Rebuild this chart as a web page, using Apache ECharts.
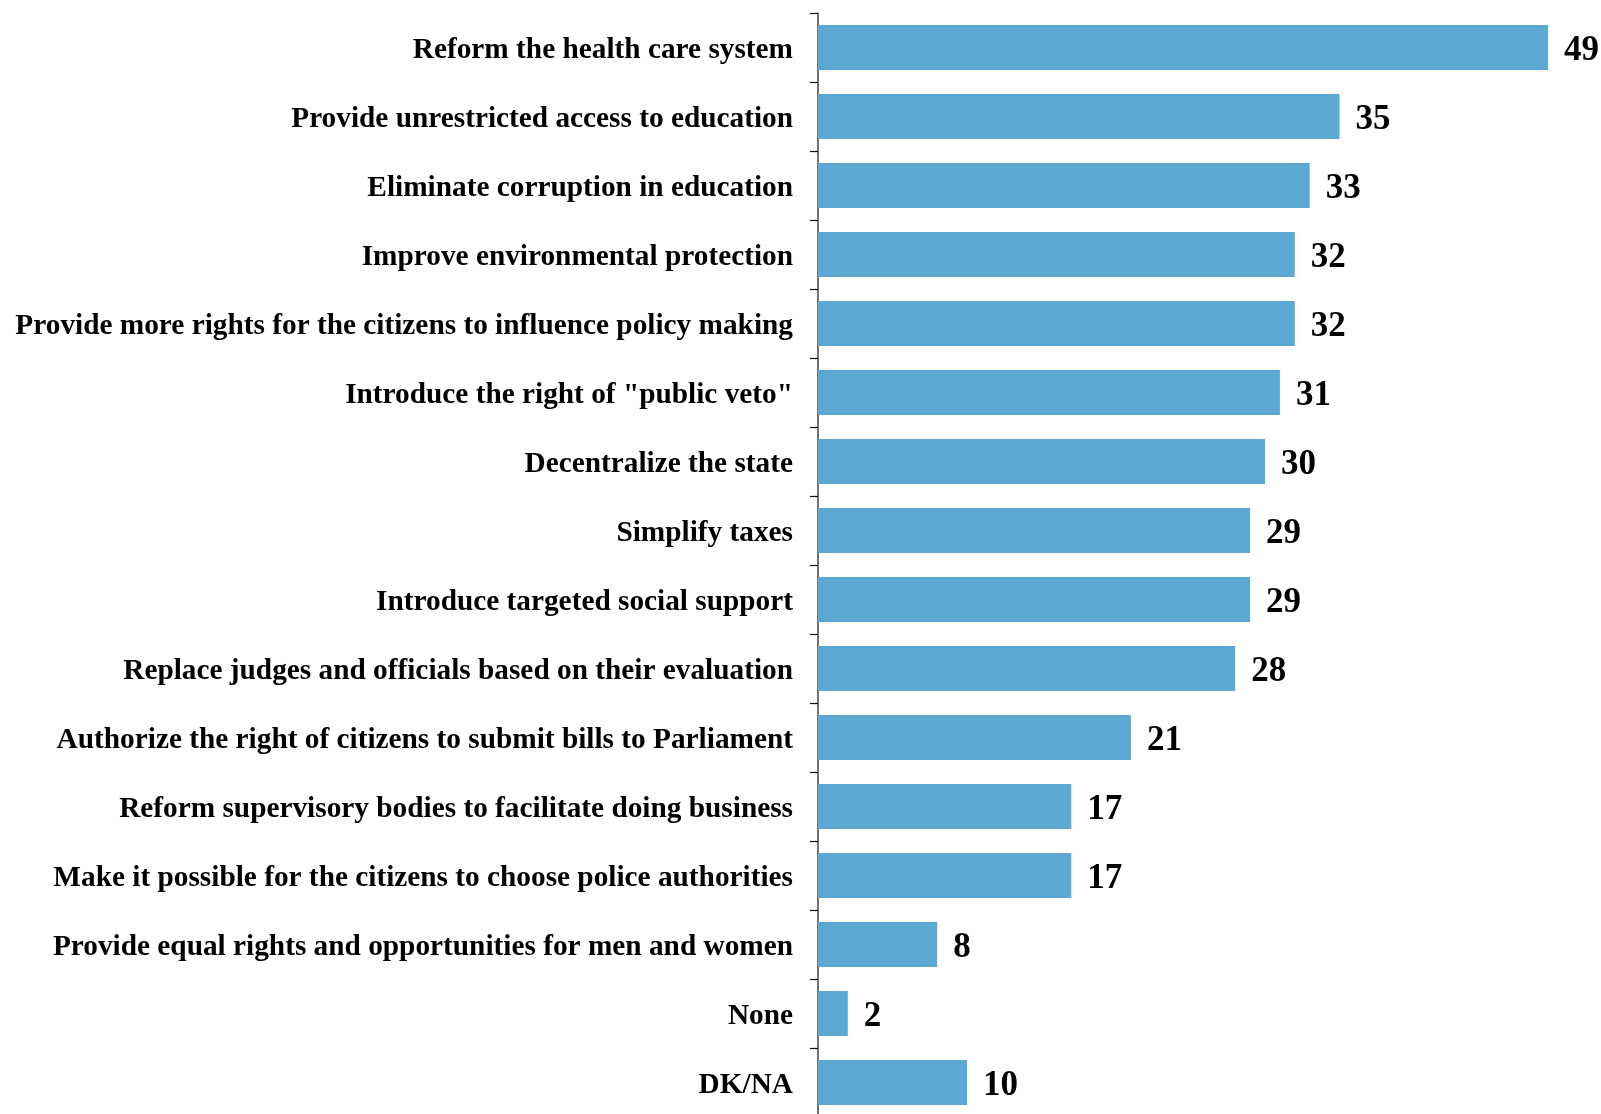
<!DOCTYPE html>
<html>
<head>
<meta charset="utf-8">
<script src="https://cdn.jsdelivr.net/npm/echarts@6/dist/echarts.min.js"></script>
<style>
html,body{margin:0;padding:0;background:#fff;}
#chart{width:1601px;height:1114px;}
</style>
</head>
<body>
<div id="chart"></div>
<script>
const categories = [
  "Reform the health care system",
  "Provide unrestricted access to education",
  "Eliminate corruption in education",
  "Improve environmental protection",
  "Provide more rights for the citizens to influence policy making",
  "Introduce the right of \"public veto\"",
  "Decentralize the state",
  "Simplify taxes",
  "Introduce targeted social support",
  "Replace judges and officials based on their evaluation",
  "Authorize the right of citizens to submit bills to Parliament",
  "Reform supervisory bodies to facilitate doing business",
  "Make it possible for the citizens to choose police authorities",
  "Provide equal rights and opportunities for men and women",
  "None",
  "DK/NA"
];
const values = [49, 35, 33, 32, 32, 31, 30, 29, 29, 28, 21, 17, 17, 8, 2, 10];

const chart = echarts.init(document.getElementById('chart'));
chart.setOption({
  animation: false,
  backgroundColor: '#ffffff',
  grid: { left: 818, top: 13, width: 745, height: 1104, containLabel: false, outerBoundsMode: 'none' },
  xAxis: {
    type: 'value', min: 0, max: 50, show: false
  },
  yAxis: {
    type: 'category',
    inverse: true,
    data: categories,
    axisLine: { show: true, lineStyle: { color: '#444', width: 1.5 } },
    axisTick: { show: true, length: 8, lineStyle: { color: '#111', width: 1.2 } },
    axisLabel: {
      margin: 25,
      formatter: function (v) { return '{t|' + v + '}'; },
      rich: {
        t: {
          fontFamily: 'Liberation Serif',
          fontWeight: 'bold',
          fontSize: 29.3,
          color: '#000',
          padding: [6, 0, 0, 0]
        }
      }
    }
  },
  series: [{
    type: 'bar',
    data: values,
    barWidth: 45,
    itemStyle: { color: '#5BA9D3' },
    label: {
      show: true,
      position: 'right',
      distance: 16,
      offset: [0, 3],
      fontFamily: 'Liberation Serif',
      fontWeight: 'bold',
      fontSize: 35,
      color: '#000'
    }
  }]
});
</script>
</body>
</html>
